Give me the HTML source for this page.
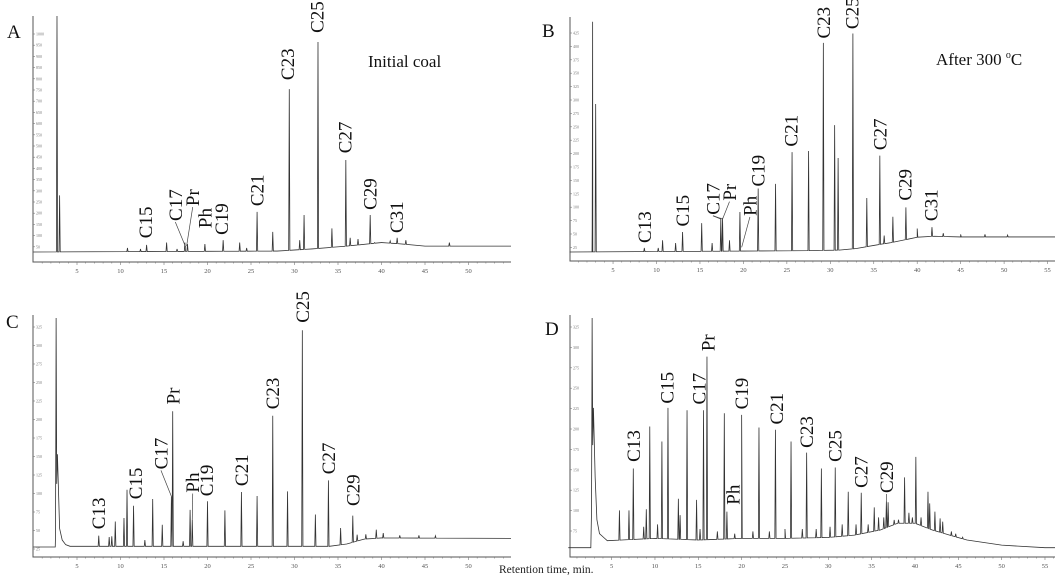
<!DOCTYPE html>
<html><head><meta charset="utf-8"><style>
html,body{margin:0;padding:0;background:#fff;}
svg{display:block;}
text{font-family:"Liberation Serif",serif;}
</style></head><body>
<svg id="fig" width="1063" height="581" viewBox="0 0 1063 581" font-family="Liberation Serif, serif">
<text x="368" y="67" font-size="17" fill="#111" font-family="Liberation Serif, serif">Initial coal</text>
<text x="936" y="65" font-size="17" fill="#111" font-family="Liberation Serif, serif">After 300 <tspan font-size="10" dy="-7">o</tspan><tspan dy="7">C</tspan></text>
<text x="499" y="573" font-size="11.5" fill="#222" font-family="Liberation Serif, serif">Retention time, min.</text>
</svg>
<script>
// ---- Panel A data (Initial coal) ----
const peaksA_t=[2.7,3.0,10.8,12.3,13.0,15.3,16.5,17.4,17.7,19.7,21.8,23.7,24.5,25.7,27.5,29.4,30.6,31.1,32.7,34.3,35.9,36.4,37.3,38.7,39.2,41.0,41.8,42.8,47.8];
const peaksA_v=[100,24,1.7,1.3,3,4,1.3,4,3.4,3.4,5,4,1.7,17,8.5,69,5,15.7,89,10,39,6,5.5,15.7,4,4.7,6,5,4];
const baseA_t=[0,28,32,36,40,42,45,55];
const baseA_v=[0,0.4,1.3,2.5,4,3.5,2.5,2.5];
const labA_n=["C15","C17","Pr","Ph","C19","C21","C23","C25","C27","C29","C31"];
const labA_t=[12.9,16.3,18.3,19.7,21.6,25.7,29.2,32.6,35.8,38.7,41.7];
const labA_v=[5,12.3,18.6,9.3,6.4,18.6,72,92,41,17,7.2];
const leadA_lab=["C17","Pr"];const leadA_t=[17.5,17.6];const leadA_v=[2,2.5];
// ---- Panel B data (After 300 C) ----
const peaksB_t=[2.6,2.65,3.0,8.6,10.2,10.7,12.2,13.0,15.2,16.4,17.4,17.6,18.4,19.6,21.7,23.7,25.6,27.5,29.2,30.5,30.9,32.6,34.2,35.7,36.2,37.2,38.7,40.0,41.7,43,45,47.8,50.4];
const peaksB_v=[10,98,63,1.7,1.7,5,3.8,8.5,12.3,3.8,14.5,14.5,5,17,27,29,42.5,43,89,54,40,93,23,41,7,15,19,10,10.6,8,7.5,7.5,7.2];
const baseB_t=[0,20,28,31,33,35,37,39,40,42,45,55];
const baseB_v=[0,0.4,0.6,0.8,1.5,2.8,4,5.5,6.3,6.7,6.4,6.4];
const labB_n=["C13","C15","C17","Pr","Ph","C19","C21","C23","C25","C27","C29","C31"];
const labB_t=[8.6,13.0,16.5,18.4,20.75,21.7,25.5,29.2,32.5,35.7,38.6,41.6];
const labB_v=[3,10,15,21,14.5,27,44,90,94,42.5,21,12.3];
const leadB_lab=["C17","C17","Pr","Ph"];const leadB_t=[17.4,17.6,17.6,19.8];const leadB_v=[14,14,14,2];
// ---- Panel C data ----
const peaksC_t=[2.6,7.5,8.7,9.0,9.4,10.4,10.75,11.5,12.8,13.7,14.8,15.85,16.0,17.2,18.0,18.25,20.0,22.0,23.9,25.7,27.5,29.2,30.9,32.4,33.9,35.3,36.7,37.2,38.2,39.4,40.2,42.1,44.3,46.2];
const peaksC_v=[98.7,4.9,4.3,4.6,11,12.5,24.7,17.8,3,20.7,9.6,21.8,58.5,2.5,16,11.8,19.7,15.8,23.7,22,56.6,24,93.4,14,28.7,8.2,13.5,5.3,5.5,7.5,6,5,5,4.8];
const baseC_t=[0,2.5,2.75,3.0,3.3,3.7,4.2,34,36,38,40,55];
const baseC_v=[0,0,40,8,3,1,0.3,0.3,1.3,3.4,3.9,3.7];
const labC_n=["C13","C15","C17","Pr","Ph","C19","C21","C23","C25","C27","C29"];
const labC_t=[7.5,11.7,14.65,16.05,18.3,19.9,23.9,27.45,30.9,33.9,36.7];
const labC_v=[6.8,19.7,32.6,60.6,22.6,21,25.4,58.5,95.8,30.5,16.8];
const leadC_lab=["C17","Ph"];const leadC_t=[15.85,18.25];const leadC_v=[21.8,11.8];
// ---- Panel D data ----
const peaksD_t=[2.75,5.9,7.0,7.5,8.7,9.0,9.4,10.3,10.8,11.5,12.7,12.9,13.7,14.8,15.2,15.6,16.0,17.2,18.0,18.3,19.2,20.0,21.3,22.0,23.2,23.9,25.0,25.7,27.0,27.5,28.6,29.2,30.2,30.8,31.6,32.3,33.2,33.8,34.6,35.3,35.8,36.4,36.7,36.9,37.6,38.1,38.8,39.3,39.7,40.1,40.7,41.5,41.7,42.3,42.9,43.2,44.2,44.7,45.5];
const peaksD_v=[98.6,16,16,34,9,16.5,52,10,45.6,60,21,14,59,20.5,8,59,82,7,57.7,15.5,6,57,7,51.6,7,50.6,8,45.6,8,40.8,8,34,9,34.4,10,24,10,23.6,10,17.3,13,13,19.8,19.5,11.9,12,30.2,15,13,39,13,24,19,15.5,12.6,11.2,7,6,4.5];
const baseD_t=[0,2.6,2.9,3.1,3.3,3.6,4.2,4.5,10,15,20,25,30,33,36,38,40,42,44,46,50,55];
const baseD_v=[0,0,60,30,12,6,4,3,4,3.3,4,4,4.4,5.4,7.6,10.5,10.5,7.6,5.4,3.3,1.1,0];
const labD_n=["C13","C15","C17","Pr","Ph","C19","C21","C23","C25","C27","C29"];
const labD_t=[7.5,11.4,15.1,16.1,19.0,20.0,24.0,27.5,30.8,33.8,36.7];
const labD_v=[36,61,60.6,83.5,17.6,58.5,52,42,36,24.8,22.6];
const leadD_lab=["C29"];const leadD_t=[36.7];const leadD_v=[19.8];

const NS="http://www.w3.org/2000/svg";
const fig=document.getElementById('fig');
const FF="Liberation Serif, serif";
function mk(tag,attrs,parent){const e=document.createElementNS(NS,tag);for(const k in attrs)e.setAttribute(k,attrs[k]);(parent||fig).appendChild(e);return e;}
function interp(ts,vs,t){if(t<=ts[0])return vs[0];for(let i=1;i<ts.length;i++){if(t<=ts[i]){const f=(t-ts[i-1])/(ts[i]-ts[i-1]);return vs[i-1]+f*(vs[i]-vs[i-1]);}}return vs[vs.length-1];}

function panel(cfg,pt,pv,bt,bv,ln,lt,lv,ldl,ldt,ldv){
  const g=mk('g',{});
  
  
  const X=t=>cfg.x0+cfg.pxm*t;
  const Y=v=>cfg.zeroY-cfg.k*v;
  const ax=mk('path',{d:`M${cfg.axL},${cfg.axT} V${cfg.axB} H${cfg.axR}`,stroke:'#555','stroke-width':1,fill:'none'},g);
  
  
  for(let t=1;X(t)<cfg.axR;t++){
    mk('line',{x1:X(t),x2:X(t),y1:cfg.axB,y2:cfg.axB+(t%5==0?3:1.5),stroke:'#777','stroke-width':0.6},g);
    if(t%5==0){const tx=mk('text',{x:X(t),y:cfg.axB+11,'font-size':6.5,'text-anchor':'middle',fill:'#555','font-family':FF},g);tx.textContent=t;
      
      }
  }
  for(let i=0;;i++){const yy=cfg.yt0+i*cfg.ytp;const val=cfg.ytMax-i*cfg.ytStep;if(yy>cfg.axB-8||val<=0)break;
    mk('line',{x1:cfg.axL,x2:cfg.axL+2,y1:yy,y2:yy,stroke:'#777','stroke-width':0.6},g);
    const tx=mk('text',{x:cfg.axL+3,y:yy+1.5,'font-size':4,fill:'#777','font-family':FF},g);tx.textContent=val;
    
    
  }
  const tEnd=(cfg.axR-cfg.x0)/cfg.pxm;
  const ev=[];
  for(let i=0;i<bt.length;i++)ev.push([Math.min(bt[i],tEnd),null]);
  ev.push([tEnd,null]);
  const hw=0.07;
  for(let i=0;i<pt.length;i++){ev.push([pt[i]-hw,null]);ev.push([pt[i],pv[i]]);ev.push([pt[i]+hw,null]);}
  ev.sort((a,b)=>a[0]-b[0]);
  let d='';
  ev.forEach(e=>{if(e[0]<0||e[0]>tEnd)return;const b=interp(bt,bv,e[0]);const v=e[1]==null?b:Math.max(e[1],b);
    d+=(d?'L':'M')+X(e[0]).toFixed(2)+','+Math.max(Y(v),cfg.axT).toFixed(2);});
  const tr=mk('path',{d:d,stroke:'#333','stroke-width':0.8,fill:'none'},g);
  
  
  const lab={};
  for(let i=0;i<ln.length;i++){
    const x=X(lt[i])+6.5,y=Y(lv[i])-2;lab[ln[i]]=[X(lt[i]),y+1];
    const tx=mk('text',{x:x,y:y,'font-size':19,fill:'#111','font-family':FF,transform:`rotate(-90 ${x} ${y})`},g);
    tx.textContent=ln[i];
    
    
  }
  for(let i=0;i<ldl.length;i++){const p=lab[ldl[i]];
    const l=mk('line',{x1:p[0],y1:p[1],x2:X(ldt[i]),y2:Y(ldv[i]),stroke:'#444','stroke-width':0.7},g);
    
    }
  const pl=mk('text',{x:cfg.lx,y:cfg.ly,'font-size':19,fill:'#111','font-family':FF},g);pl.textContent=cfg.id;
  
  
  return g;
}
panel({id:'A',axL:33,axT:16,axB:262,axR:511,x0:33.5,pxm:8.7,zeroY:252,k:2.36,yt0:34,ytp:11.2,ytMax:1000,ytStep:50,lx:7,ly:38},
  peaksA_t,peaksA_v,baseA_t,baseA_v,labA_n,labA_t,labA_v,leadA_lab,leadA_t,leadA_v);
panel({id:'B',axL:570,axT:17,axB:261,axR:1055,x0:569.6,pxm:8.69,zeroY:252,k:2.35,yt0:33,ytp:13.4,ytMax:425,ytStep:25,lx:542,ly:37},
  peaksB_t,peaksB_v,baseB_t,baseB_v,labB_n,labB_t,labB_v,leadB_lab,leadB_t,leadB_v);
panel({id:'C',axL:33,axT:315,axB:557,axR:511,x0:33.5,pxm:8.7,zeroY:547,k:2.32,yt0:327,ytp:18.5,ytMax:325,ytStep:25,lx:6,ly:328},
  peaksC_t,peaksC_v,baseC_t,baseC_v,labC_n,labC_t,labC_v,leadC_lab,leadC_t,leadC_v);
panel({id:'D',axL:570,axT:315,axB:557,axR:1055,x0:568.3,pxm:8.667,zeroY:547.7,k:2.33,yt0:327,ytp:20.4,ytMax:325,ytStep:25,lx:545,ly:335},
  peaksD_t,peaksD_v,baseD_t,baseD_v,labD_n,labD_t,labD_v,leadD_lab,leadD_t,leadD_v);
</script>
</body></html>
